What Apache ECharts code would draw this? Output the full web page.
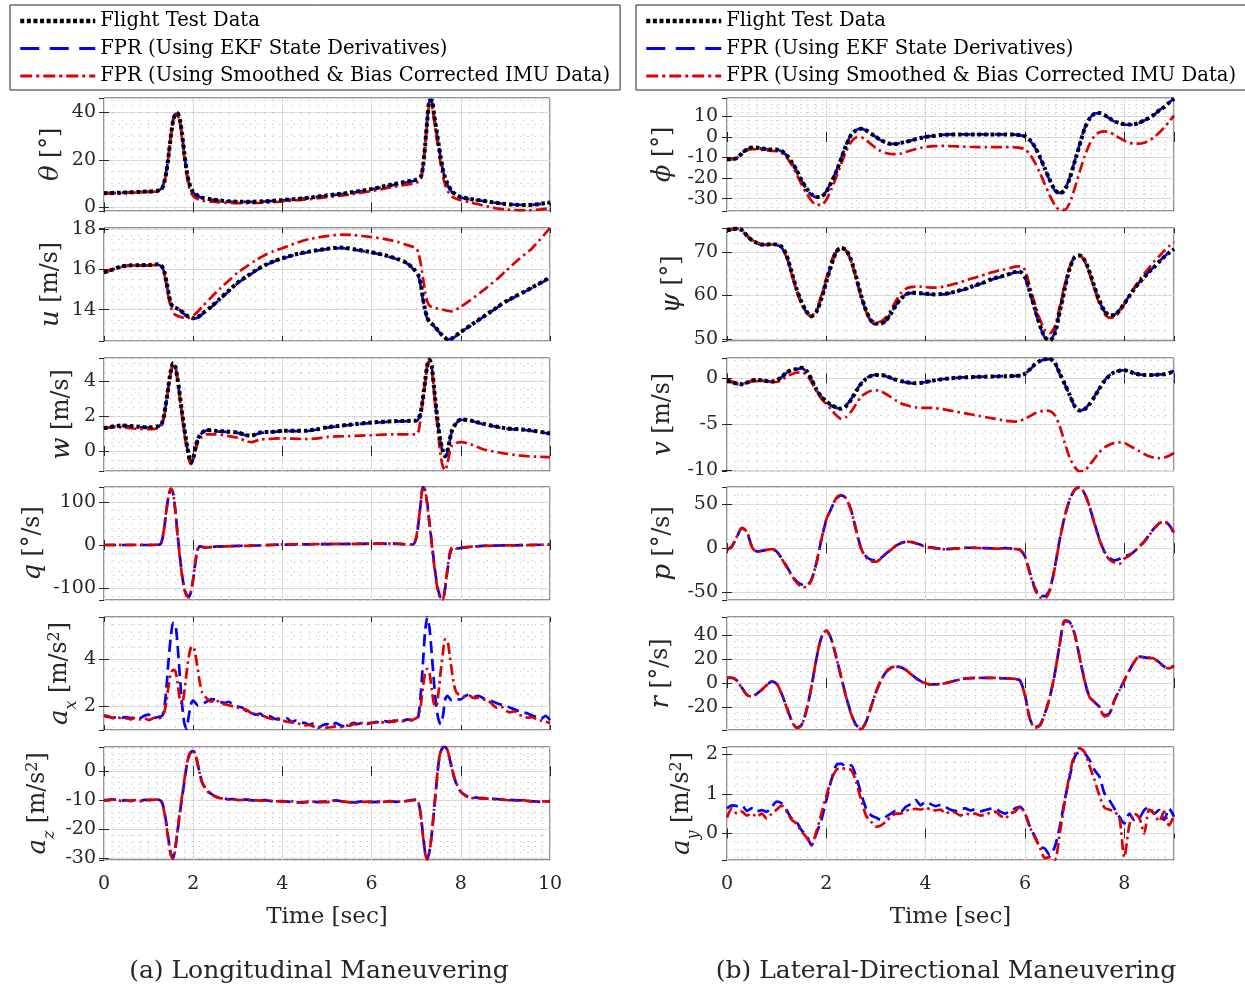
<!DOCTYPE html>
<html><head><meta charset="utf-8">
<script src="https://cdn.jsdelivr.net/npm/echarts@6/dist/echarts.min.js"></script>
<style>html,body{margin:0;padding:0;background:#fff}#c{width:1245px;height:987px}</style>
</head><body><div id="c"></div><script>
// ---------------- DATA ----------------
const seriesNames = ['Flight Test Data', 'FPR (Using EKF State Derivatives)', 'FPR (Using Smoothed & Bias Corrected IMU Data)'];
const captions = ['(a) Longitudinal Maneuvering', '(b) Lateral-Directional Maneuvering'];
const xTitle = 'Time [sec]';

// Left column: [time s, value] pairs
const thetaFT = [[0,6.0],[0.5,6.3],[1.0,6.7],[1.2,7.0],[1.3,8.0],[1.35,10.5],[1.4,15],[1.45,22],[1.5,30],[1.55,36.5],[1.6,39.2],[1.65,39.6],[1.7,37],[1.75,31],[1.8,23],[1.85,16],[1.9,11],[1.95,8],[2.0,6.5],[2.1,5.0],[2.2,4.1],[2.4,3.4],[2.6,2.9],[2.8,2.6],[3.0,2.4],[3.3,2.4],[3.6,2.6],[4.0,3.1],[4.5,3.9],[5.0,5.1],[5.5,6.2],[6.0,7.8],[6.5,9.8],[7.0,11.7],[7.1,12.8],[7.15,17],[7.2,26],[7.25,37],[7.3,45],[7.35,45],[7.4,39],[7.45,33],[7.5,27],[7.55,21],[7.6,16],[7.65,12.5],[7.7,10],[7.8,6.8],[7.9,5.3],[8.0,4.4],[8.2,3.6],[8.5,2.8],[9.0,1.4],[9.5,1.0],[9.8,1.5],[10,2.1]];
const thetaEKF = [[0,6.0],[0.5,6.3],[1.0,6.7],[1.2,7.0],[1.3,8.2],[1.35,11],[1.4,15.5],[1.45,22.5],[1.5,30.5],[1.55,36.8],[1.6,39.3],[1.65,39.4],[1.7,36.5],[1.75,30.5],[1.8,22.5],[1.85,15.5],[1.9,10.5],[1.95,7.6],[2.0,6.2],[2.1,4.8],[2.2,4.0],[2.4,3.3],[2.6,2.8],[2.8,2.5],[3.0,2.3],[3.3,2.3],[3.6,2.5],[4.0,3.0],[4.5,3.8],[5.0,4.9],[5.5,6.0],[6.0,7.6],[6.5,9.5],[7.0,11.4],[7.1,12.6],[7.15,17],[7.2,26.5],[7.25,37.5],[7.3,44.8],[7.35,44.5],[7.4,38.5],[7.45,32.5],[7.5,26.5],[7.55,20.5],[7.6,15.5],[7.65,12],[7.7,9.5],[7.8,6.5],[7.9,5.0],[8.0,4.2],[8.2,3.5],[8.5,2.7],[9.0,1.4],[9.5,1.0],[9.8,1.5],[10,2.0]];
const thetaIMU = [[0,5.8],[0.5,6.1],[1.0,6.5],[1.2,6.8],[1.3,7.8],[1.35,10.5],[1.4,15],[1.45,22],[1.5,30],[1.55,36.5],[1.6,38.8],[1.65,38.8],[1.7,35.5],[1.75,29],[1.8,21],[1.85,14],[1.9,9],[1.95,6.3],[2.0,4.8],[2.1,3.5],[2.2,2.9],[2.4,2.4],[2.6,2.1],[2.8,1.9],[3.0,1.8],[3.3,1.8],[3.6,2.0],[4.0,2.5],[4.5,3.3],[5.0,4.3],[5.5,5.4],[6.0,6.9],[6.5,8.7],[7.0,10.4],[7.1,11.8],[7.15,16],[7.2,25.5],[7.25,36.5],[7.3,43.5],[7.35,43],[7.4,37],[7.45,30.5],[7.5,24],[7.55,18],[7.6,13],[7.65,9.5],[7.7,7],[7.8,4.6],[7.9,3.6],[8.0,3.0],[8.2,2.2],[8.5,0.8],[8.8,-0.4],[9.0,-0.9],[9.5,-1.2],[9.8,-0.8],[10,-0.3]];

const uFT = [[0,15.85],[0.2,16.0],[0.4,16.15],[0.6,16.2],[0.8,16.2],[1.0,16.22],[1.2,16.25],[1.3,16.15],[1.35,15.9],[1.4,15.4],[1.45,14.8],[1.5,14.3],[1.55,14.15],[1.6,14.1],[1.7,14.0],[1.8,13.8],[1.9,13.65],[2.0,13.58],[2.1,13.62],[2.2,13.8],[2.4,14.15],[2.6,14.55],[2.8,14.95],[3.0,15.35],[3.2,15.65],[3.4,15.95],[3.6,16.2],[3.8,16.4],[4.0,16.55],[4.3,16.75],[4.6,16.88],[5.0,17.02],[5.3,17.08],[5.6,17.0],[6.0,16.85],[6.3,16.7],[6.6,16.5],[6.8,16.3],[6.95,16.0],[7.05,15.7],[7.1,15.3],[7.15,14.6],[7.2,14.0],[7.25,13.6],[7.3,13.4],[7.4,13.2],[7.5,12.95],[7.6,12.7],[7.7,12.55],[7.8,12.58],[8.0,12.9],[8.2,13.2],[8.5,13.65],[8.8,14.1],[9.0,14.4],[9.3,14.75],[9.6,15.1],[10,15.6]];
const uEKF = [[0,15.83],[0.2,16.0],[0.4,16.13],[0.6,16.2],[0.8,16.2],[1.0,16.2],[1.2,16.23],[1.3,16.12],[1.35,15.85],[1.4,15.3],[1.45,14.7],[1.5,14.25],[1.55,14.12],[1.6,14.08],[1.7,13.98],[1.8,13.78],[1.9,13.62],[2.0,13.56],[2.1,13.6],[2.2,13.78],[2.4,14.12],[2.6,14.52],[2.8,14.92],[3.0,15.32],[3.2,15.62],[3.4,15.92],[3.6,16.18],[3.8,16.38],[4.0,16.53],[4.3,16.73],[4.6,16.86],[5.0,17.0],[5.3,17.06],[5.6,16.98],[6.0,16.83],[6.3,16.68],[6.6,16.48],[6.8,16.28],[6.95,15.98],[7.05,15.65],[7.1,15.2],[7.15,14.5],[7.2,13.95],[7.25,13.55],[7.3,13.38],[7.4,13.18],[7.5,12.93],[7.6,12.68],[7.7,12.53],[7.8,12.56],[8.0,12.88],[8.2,13.18],[8.5,13.63],[8.8,14.08],[9.0,14.38],[9.3,14.73],[9.6,15.08],[10,15.58]];
const uIMU = [[0,15.85],[0.2,16.0],[0.4,16.12],[0.6,16.18],[0.8,16.2],[1.0,16.2],[1.2,16.22],[1.3,16.1],[1.35,15.8],[1.4,15.2],[1.45,14.6],[1.5,14.1],[1.55,13.85],[1.6,13.75],[1.7,13.65],[1.8,13.6],[1.9,13.6],[2.0,13.7],[2.1,13.9],[2.2,14.15],[2.4,14.6],[2.6,15.05],[2.8,15.45],[3.0,15.85],[3.2,16.15],[3.4,16.45],[3.6,16.7],[3.8,16.9],[4.0,17.05],[4.3,17.3],[4.6,17.5],[5.0,17.65],[5.3,17.72],[5.6,17.7],[6.0,17.6],[6.3,17.5],[6.6,17.35],[6.8,17.2],[7.0,17.05],[7.05,16.8],[7.1,16.3],[7.15,15.6],[7.2,14.9],[7.25,14.4],[7.3,14.2],[7.4,14.1],[7.5,14.05],[7.6,14.0],[7.7,13.95],[7.8,13.92],[8.0,14.15],[8.2,14.45],[8.5,14.95],[8.8,15.5],[9.0,15.9],[9.3,16.5],[9.6,17.05],[10,18.05]];

const wFT = [[0,1.3],[0.2,1.4],[0.4,1.45],[0.6,1.42],[0.8,1.38],[1.0,1.35],[1.2,1.4],[1.3,1.6],[1.35,2.1],[1.4,2.9],[1.45,3.8],[1.5,4.6],[1.55,5.0],[1.6,4.8],[1.65,4.1],[1.7,3.2],[1.75,2.2],[1.8,1.3],[1.85,0.5],[1.9,-0.2],[1.95,-0.65],[2.0,-0.4],[2.05,0.2],[2.1,0.65],[2.15,0.9],[2.2,1.05],[2.3,1.2],[2.5,1.15],[2.8,1.1],[3.0,1.05],[3.2,0.9],[3.3,0.87],[3.5,1.05],[3.8,1.1],[4.0,1.15],[4.5,1.15],[4.8,1.25],[5.0,1.35],[5.5,1.5],[6.0,1.62],[6.5,1.7],[7.0,1.74],[7.05,1.85],[7.1,2.2],[7.15,3.0],[7.2,4.0],[7.25,4.9],[7.3,5.2],[7.35,4.8],[7.4,3.6],[7.45,2.4],[7.5,1.3],[7.55,0.5],[7.6,0.0],[7.65,-0.3],[7.7,0.0],[7.75,0.6],[7.8,1.15],[7.9,1.6],[8.0,1.8],[8.2,1.75],[8.5,1.55],[9.0,1.3],[9.5,1.2],[10,1.0]];
const wEKF = [[0,1.28],[0.2,1.38],[0.4,1.43],[0.6,1.4],[0.8,1.36],[1.0,1.33],[1.2,1.38],[1.3,1.58],[1.35,2.05],[1.4,2.85],[1.45,3.75],[1.5,4.55],[1.55,4.95],[1.6,4.78],[1.65,4.05],[1.7,3.1],[1.75,2.1],[1.8,1.2],[1.85,0.4],[1.9,-0.3],[1.95,-0.7],[2.0,-0.45],[2.05,0.15],[2.1,0.6],[2.15,0.88],[2.2,1.03],[2.3,1.18],[2.5,1.13],[2.8,1.08],[3.0,1.03],[3.2,0.88],[3.3,0.85],[3.5,1.03],[3.8,1.08],[4.0,1.13],[4.5,1.13],[4.8,1.23],[5.0,1.33],[5.5,1.48],[6.0,1.6],[6.5,1.68],[7.0,1.72],[7.05,1.82],[7.1,2.15],[7.15,2.95],[7.2,3.95],[7.25,4.85],[7.3,5.15],[7.35,4.75],[7.4,3.5],[7.45,2.3],[7.5,1.2],[7.55,0.4],[7.6,-0.1],[7.65,-0.35],[7.7,-0.05],[7.75,0.55],[7.8,1.1],[7.9,1.58],[8.0,1.78],[8.2,1.73],[8.5,1.53],[9.0,1.28],[9.5,1.18],[10,0.98]];
const wIMU = [[0,1.3],[0.2,1.35],[0.4,1.35],[0.6,1.3],[0.8,1.25],[1.0,1.25],[1.2,1.3],[1.3,1.5],[1.35,2.0],[1.4,2.8],[1.45,3.7],[1.5,4.5],[1.55,4.95],[1.6,4.8],[1.65,4.0],[1.7,3.0],[1.75,2.0],[1.8,1.0],[1.85,0.2],[1.9,-0.45],[1.95,-0.75],[2.0,-0.55],[2.05,0.0],[2.1,0.45],[2.15,0.7],[2.2,0.85],[2.3,0.95],[2.5,0.95],[2.8,0.85],[3.0,0.75],[3.2,0.55],[3.3,0.5],[3.5,0.65],[3.8,0.7],[4.0,0.72],[4.5,0.68],[4.8,0.72],[5.0,0.8],[5.5,0.85],[6.0,0.9],[6.5,0.95],[7.0,0.95],[7.05,1.1],[7.1,1.9],[7.15,2.9],[7.2,3.9],[7.25,4.9],[7.3,5.15],[7.35,4.7],[7.4,3.4],[7.45,2.0],[7.5,0.8],[7.55,-0.3],[7.6,-0.9],[7.65,-1.1],[7.7,-0.7],[7.75,-0.1],[7.8,0.3],[7.9,0.45],[8.0,0.5],[8.2,0.4],[8.5,0.1],[9.0,-0.15],[9.5,-0.3],[10,-0.35]];

const qEKF = [[0,0],[0.5,0],[1.0,0],[1.2,1],[1.25,1],[1.3,10],[1.35,40],[1.4,80],[1.45,115],[1.5,130],[1.55,120],[1.6,80],[1.65,25],[1.7,-25],[1.75,-70],[1.8,-100],[1.85,-115],[1.9,-120],[1.95,-110],[2.0,-80],[2.05,-40],[2.1,-12],[2.15,-3],[2.2,-4],[2.3,-6],[2.5,-4],[3.0,-2],[3.5,-1],[4.0,1],[5.0,2],[6.0,3],[6.5,3],[6.9,1],[6.95,3],[7.0,15],[7.05,50],[7.1,95],[7.15,135],[7.2,126],[7.25,95],[7.3,50],[7.35,5],[7.4,-40],[7.45,-80],[7.5,-108],[7.55,-122],[7.6,-125],[7.65,-100],[7.7,-60],[7.75,-25],[7.8,-8],[7.85,-4],[7.9,-8],[8.0,-7],[8.5,-2],[9.0,-1],[10,1]];
const qIMU = [[0,0],[0.5,0.5],[1.0,0],[1.2,1],[1.25,2],[1.3,10],[1.35,40],[1.4,82],[1.45,116],[1.5,132],[1.55,121],[1.6,78],[1.65,22],[1.7,-28],[1.75,-72],[1.8,-102],[1.85,-118],[1.9,-122],[1.95,-108],[2.0,-78],[2.05,-38],[2.1,-10],[2.15,-3],[2.2,-5],[2.3,-6],[2.5,-4],[3.0,-2.5],[3.5,-1],[4.0,1.5],[5.0,2.5],[6.0,3],[6.5,3.5],[6.9,1],[6.95,4],[7.0,18],[7.05,52],[7.1,97],[7.15,136],[7.2,128],[7.25,92],[7.3,46],[7.35,0],[7.4,-45],[7.45,-85],[7.5,-112],[7.55,-126],[7.6,-127],[7.65,-98],[7.7,-55],[7.75,-20],[7.8,-6],[7.85,-4],[7.9,-8],[8.0,-6],[8.5,-2],[9.0,-1],[10,1]];

const axEKF = [[0,1.6],[0.1,1.55],[0.2,1.52],[0.3,1.56],[0.4,1.52],[0.5,1.55],[0.6,1.5],[0.7,1.55],[0.8,1.5],[0.9,1.6],[1.0,1.65],[1.1,1.5],[1.2,1.55],[1.3,1.6],[1.35,1.9],[1.4,2.8],[1.45,4.0],[1.5,5.0],[1.55,5.55],[1.6,5.5],[1.65,4.6],[1.7,3.3],[1.75,2.1],[1.8,1.3],[1.85,1.05],[1.9,1.6],[1.95,2.1],[2.0,2.25],[2.05,2.15],[2.1,2.05],[2.2,2.1],[2.3,2.2],[2.4,2.3],[2.5,2.3],[2.6,2.2],[2.7,2.15],[2.8,2.2],[2.9,2.05],[3.0,2.0],[3.1,1.95],[3.2,1.8],[3.3,1.75],[3.4,1.65],[3.5,1.7],[3.6,1.55],[3.7,1.6],[3.8,1.5],[3.9,1.45],[4.0,1.45],[4.1,1.5],[4.2,1.35],[4.3,1.4],[4.4,1.3],[4.5,1.3],[4.6,1.22],[4.7,1.28],[4.8,1.1],[4.9,1.2],[5.0,1.25],[5.1,1.15],[5.2,1.3],[5.3,1.2],[5.4,1.15],[5.5,1.22],[5.6,1.3],[5.7,1.25],[5.8,1.33],[5.9,1.28],[6.0,1.3],[6.1,1.35],[6.2,1.3],[6.3,1.38],[6.4,1.33],[6.5,1.4],[6.6,1.42],[6.7,1.38],[6.8,1.45],[6.9,1.42],[7.0,1.4],[7.05,1.6],[7.1,2.5],[7.15,3.8],[7.2,5.2],[7.25,5.8],[7.3,5.3],[7.35,4.2],[7.4,3.0],[7.45,2.0],[7.5,1.45],[7.55,1.25],[7.6,1.6],[7.65,2.3],[7.7,2.45],[7.8,2.25],[7.9,2.3],[8.0,2.3],[8.1,2.45],[8.2,2.5],[8.3,2.42],[8.4,2.45],[8.5,2.35],[8.6,2.3],[8.7,2.22],[8.8,2.15],[8.9,2.08],[9.0,2.05],[9.1,1.95],[9.2,1.88],[9.3,1.8],[9.4,1.75],[9.5,1.7],[9.6,1.62],[9.7,1.55],[9.8,1.48],[9.9,1.6],[10,1.42]];
const axIMU = [[0,1.62],[0.1,1.58],[0.2,1.5],[0.3,1.55],[0.4,1.48],[0.5,1.5],[0.6,1.45],[0.7,1.52],[0.8,1.45],[0.9,1.5],[1.0,1.42],[1.1,1.5],[1.2,1.55],[1.25,1.5],[1.3,1.6],[1.35,1.75],[1.4,2.2],[1.45,2.9],[1.5,3.4],[1.55,3.55],[1.6,3.5],[1.65,3.0],[1.7,2.3],[1.75,2.1],[1.8,2.6],[1.85,3.4],[1.9,4.1],[1.95,4.5],[2.0,4.55],[2.05,4.2],[2.1,3.6],[2.15,3.0],[2.2,2.6],[2.3,2.35],[2.4,2.2],[2.5,2.3],[2.6,2.15],[2.7,2.1],[2.8,2.05],[2.9,2.0],[3.0,1.95],[3.1,1.9],[3.2,1.85],[3.3,1.72],[3.4,1.7],[3.5,1.6],[3.6,1.58],[3.7,1.5],[3.8,1.45],[3.9,1.5],[4.0,1.42],[4.1,1.35],[4.2,1.32],[4.3,1.3],[4.4,1.25],[4.5,1.2],[4.6,1.22],[4.7,1.15],[4.8,1.12],[4.9,1.15],[5.0,1.1],[5.1,1.12],[5.2,1.15],[5.3,1.12],[5.4,1.2],[5.5,1.18],[5.6,1.25],[5.7,1.22],[5.8,1.3],[5.9,1.25],[6.0,1.3],[6.1,1.32],[6.2,1.35],[6.3,1.3],[6.4,1.38],[6.5,1.35],[6.6,1.42],[6.7,1.4],[6.8,1.45],[6.9,1.42],[7.0,1.5],[7.05,1.6],[7.1,2.0],[7.15,2.8],[7.2,3.4],[7.25,3.6],[7.3,3.4],[7.35,2.7],[7.4,2.1],[7.45,2.0],[7.5,2.6],[7.55,3.5],[7.6,4.3],[7.65,4.85],[7.7,4.8],[7.75,4.2],[7.8,3.5],[7.85,2.9],[7.9,2.6],[8.0,2.45],[8.1,2.4],[8.2,2.45],[8.3,2.35],[8.4,2.38],[8.5,2.3],[8.6,2.28],[8.7,2.1],[8.8,1.95],[8.9,2.0],[9.0,1.85],[9.1,1.75],[9.2,1.8],[9.3,1.65],[9.4,1.6],[9.5,1.52],[9.6,1.55],[9.7,1.45],[9.8,1.4],[9.9,1.35],[10,1.3]];

const azEKF = [[0,-10.1],[0.1,-9.9],[0.2,-9.7],[0.3,-10.0],[0.4,-10.2],[0.5,-10.0],[0.6,-10.3],[0.7,-10.1],[0.8,-10.3],[0.9,-9.9],[1.0,-10.0],[1.1,-9.8],[1.2,-9.8],[1.25,-10.0],[1.3,-10.7],[1.35,-13.6],[1.4,-18.2],[1.45,-23.9],[1.5,-28.5],[1.55,-29.7],[1.6,-26.2],[1.65,-20.5],[1.7,-14.7],[1.75,-9.0],[1.8,-3.8],[1.85,1.4],[1.9,4.8],[1.95,6.6],[2.0,6.9],[2.05,5.7],[2.1,2.5],[2.15,-0.9],[2.2,-3.8],[2.3,-6.4],[2.4,-7.8],[2.5,-8.7],[2.6,-9.2],[2.7,-9.4],[2.8,-9.7],[2.9,-9.6],[3.0,-9.9],[3.2,-9.8],[3.4,-10.2],[3.6,-10.0],[3.8,-10.4],[4.0,-10.3],[4.2,-10.6],[4.4,-10.8],[4.6,-10.5],[4.8,-10.7],[5.0,-10.4],[5.2,-10.1],[5.4,-10.6],[5.6,-10.8],[5.8,-10.4],[6.0,-10.7],[6.2,-10.5],[6.4,-10.4],[6.6,-10.6],[6.8,-10.2],[7.0,-9.8],[7.05,-10.7],[7.1,-14.7],[7.15,-21.6],[7.2,-27.9],[7.25,-30.2],[7.3,-27.4],[7.35,-21.6],[7.4,-13.6],[7.45,-5.5],[7.5,2.5],[7.55,6.6],[7.6,8.2],[7.65,8.4],[7.7,7.1],[7.75,4.3],[7.8,0.8],[7.85,-2.1],[7.9,-4.4],[8.0,-7.2],[8.1,-8.4],[8.2,-9.0],[8.4,-9.2],[8.6,-9.4],[8.8,-9.6],[9.0,-9.8],[9.2,-10.0],[9.4,-10.1],[9.6,-10.4],[9.8,-10.6],[10,-10.3]];
const azIMU = [[0,-10.0],[0.1,-10.1],[0.2,-9.8],[0.3,-9.9],[0.4,-10.3],[0.5,-10.1],[0.6,-10.2],[0.7,-10.0],[0.8,-10.4],[0.9,-10.0],[1.0,-9.9],[1.1,-9.9],[1.2,-9.7],[1.25,-10.1],[1.3,-10.9],[1.35,-14.0],[1.4,-18.8],[1.45,-24.5],[1.5,-29.0],[1.55,-30.2],[1.6,-26.5],[1.65,-20.3],[1.7,-14.2],[1.75,-8.5],[1.8,-3.2],[1.85,1.8],[1.9,5.2],[1.95,6.9],[2.0,7.1],[2.05,5.8],[2.1,2.4],[2.15,-1.1],[2.2,-4.0],[2.3,-6.6],[2.4,-8.0],[2.5,-8.8],[2.6,-9.3],[2.7,-9.5],[2.8,-9.8],[2.9,-9.7],[3.0,-10.0],[3.2,-9.9],[3.4,-10.1],[3.6,-10.2],[3.8,-10.3],[4.0,-10.5],[4.2,-10.4],[4.4,-10.9],[4.6,-10.6],[4.8,-10.5],[5.0,-10.7],[5.2,-10.2],[5.4,-10.5],[5.6,-10.9],[5.8,-10.6],[6.0,-10.5],[6.2,-10.7],[6.4,-10.3],[6.6,-10.5],[6.8,-10.3],[7.0,-9.9],[7.05,-10.9],[7.1,-15.0],[7.15,-22.0],[7.2,-28.3],[7.25,-30.5],[7.3,-27.6],[7.35,-21.4],[7.4,-13.2],[7.45,-5.0],[7.5,2.9],[7.55,7.0],[7.6,8.5],[7.65,8.6],[7.7,7.3],[7.75,4.5],[7.8,1.0],[7.85,-1.9],[7.9,-4.2],[8.0,-7.0],[8.1,-8.3],[8.2,-9.1],[8.4,-9.4],[8.6,-9.5],[8.8,-9.8],[9.0,-9.9],[9.2,-10.2],[9.4,-10.0],[9.6,-10.5],[9.8,-10.4],[10,-10.5]];

// Right column: values sampled every 0.1 s from 0 to 9 s
const tR = Array.from({length: 91}, (_, i) => +(i * 0.1).toFixed(1));
const phiFT = [-10.8,-10.8,-10.2,-8.0,-6.0,-5.2,-5.3,-5.6,-6.0,-6.1,
 -6.1,-6.9,-8.9,-12.1,-16.1,-21.0,-25.0,-27.9,-29.2,-29.0,
 -26.6,-22.1,-16.9,-10.5,-4.0,1.0,3.2,4.0,3.2,1.6,
 0.0,-1.6,-2.7,-3.4,-3.4,-2.9,-2.4,-1.9,-1.1,-0.5,
 0.0,0.3,0.6,0.9,1.1,1.2,1.2,1.2,1.2,1.2,
 1.2,1.2,1.2,1.2,1.2,1.2,1.2,1.2,1.1,0.9,
 0.3,-1.6,-4.8,-9.7,-15.3,-21.0,-25.8,-27.4,-25.8,-20.2,
 -12.1,-4.0,4.0,8.9,11.3,11.6,10.6,9.1,7.6,6.8,
 6.1,6.0,6.1,6.9,8.1,9.2,10.8,12.9,14.5,16.6,
 18.5];
const phiEKF = [-10.9,-10.8,-10.1,-7.9,-6.1,-5.3,-5.4,-5.7,-6.1,-6.2,
 -6.2,-7.0,-9.0,-12.3,-16.3,-21.2,-25.3,-28.1,-29.3,-28.9,
 -26.4,-21.8,-16.5,-10.2,-3.8,1.1,3.3,4.0,3.1,1.5,
 -0.1,-1.7,-2.8,-3.4,-3.3,-2.9,-2.3,-1.8,-1.0,-0.4,
 0.1,0.4,0.7,0.9,1.1,1.2,1.2,1.3,1.2,1.2,
 1.3,1.2,1.2,1.3,1.2,1.2,1.2,1.2,1.1,0.8,
 0.2,-1.8,-5.1,-10.0,-15.6,-21.3,-26.0,-27.3,-25.5,-19.8,
 -11.8,-3.7,4.2,9.0,11.4,11.6,10.5,9.0,7.5,6.7,
 6.0,5.9,6.0,6.8,8.0,9.2,10.8,12.9,14.6,16.7,
 18.6];
const phiIMU = [-10.8,-10.7,-10.4,-8.5,-6.6,-5.9,-6.0,-6.3,-6.6,-6.8,
 -6.9,-7.8,-10.0,-13.5,-18.0,-23.0,-27.5,-31.0,-33.0,-33.0,
 -30.5,-25.5,-19.5,-13.0,-7.0,-2.5,-0.3,-0.2,-1.5,-3.5,
 -5.5,-6.9,-7.8,-8.3,-8.4,-8.1,-7.4,-6.6,-5.9,-5.3,
 -4.9,-4.6,-4.5,-4.4,-4.4,-4.5,-4.6,-4.7,-4.8,-4.9,
 -4.9,-5.0,-5.0,-5.0,-5.0,-5.0,-5.0,-5.0,-5.1,-5.3,
 -6.0,-8.5,-12.5,-17.5,-23.0,-28.5,-33.0,-35.5,-35.5,-32.0,
 -25.0,-17.0,-9.5,-3.5,0.5,2.3,2.7,2.2,1.0,-0.5,
 -1.8,-2.8,-3.3,-3.3,-2.8,-1.8,-0.2,2.0,4.6,7.4,
 10.3];

const psiFT = [75.0,75.2,75.4,75.0,73.8,72.7,72.1,71.7,71.7,71.8,
 71.7,71.2,69.2,65.4,61.5,58.5,56.3,55.2,56.2,59.2,
 63.1,66.9,70.0,70.9,70.4,68.1,64.2,60.0,56.5,54.2,
 53.5,53.5,54.2,55.8,57.7,59.2,60.2,60.6,60.6,60.5,
 60.4,60.3,60.2,60.3,60.4,60.6,60.9,61.2,61.5,61.9,
 62.3,62.7,63.1,63.6,64.0,64.3,64.6,65.0,65.4,65.4,
 64.2,60.8,56.9,53.1,50.4,49.6,51.2,56.2,61.5,66.2,
 68.8,69.2,68.1,65.4,61.9,58.8,56.5,55.4,55.5,56.5,
 58.1,59.8,61.5,62.9,64.2,65.4,66.5,67.7,68.8,69.8,
 70.6];
const psiEKF = [74.9,75.2,75.3,74.9,73.7,72.6,72.0,71.6,71.6,71.7,
 71.6,71.0,69.0,65.2,61.3,58.3,56.1,55.1,56.3,59.4,
 63.3,67.0,70.0,70.8,70.2,67.9,64.0,59.8,56.3,54.0,
 53.3,53.4,54.2,55.9,57.8,59.3,60.2,60.5,60.5,60.4,
 60.3,60.2,60.1,60.2,60.3,60.5,60.8,61.1,61.4,61.8,
 62.2,62.6,63.0,63.5,63.9,64.2,64.5,64.9,65.3,65.3,
 64.0,60.5,56.6,52.9,50.3,49.7,51.5,56.6,61.8,66.4,
 68.9,69.1,67.9,65.1,61.6,58.6,56.3,55.3,55.5,56.6,
 58.2,59.9,61.6,63.0,64.3,65.5,66.6,67.8,68.9,69.9,
 70.7];
const psiIMU = [75.0,75.2,75.4,75.0,73.9,72.8,72.2,71.8,71.7,71.7,
 71.6,71.0,68.7,65.0,61.0,58.0,56.0,55.3,56.8,60.0,
 64.0,67.8,70.4,71.0,70.3,67.8,63.8,59.6,56.3,54.3,
 53.8,54.0,55.0,56.7,58.7,60.5,61.5,61.9,62.0,62.0,
 61.9,61.8,61.8,61.9,62.1,62.4,62.7,63.0,63.4,63.8,
 64.1,64.5,64.8,65.2,65.5,65.8,66.0,66.3,66.6,66.7,
 65.8,62.0,58.0,54.5,52.0,51.3,52.8,57.5,62.5,66.5,
 68.8,69.2,68.0,65.0,61.3,58.0,55.8,54.9,55.0,56.2,
 58.0,59.9,61.8,63.5,65.0,66.4,67.8,69.0,70.2,71.3,
 72.3];

const vFT = [-0.3,-0.4,-0.58,-0.65,-0.47,-0.22,-0.18,-0.22,-0.29,-0.36,
 -0.22,0.14,0.62,0.9,1.0,1.15,0.8,-0.1,-1.2,-2.0,
 -2.5,-2.9,-3.15,-3.3,-3.0,-2.3,-1.4,-0.6,-0.05,0.25,
 0.35,0.36,0.25,0.05,-0.15,-0.3,-0.42,-0.5,-0.54,-0.5,
 -0.4,-0.3,-0.2,-0.12,-0.05,0.0,0.05,0.08,0.1,0.12,
 0.15,0.17,0.18,0.2,0.2,0.22,0.23,0.24,0.25,0.3,
 0.5,0.98,1.52,1.88,2.06,2.1,1.7,0.5,-0.6,-1.8,
 -3.0,-3.5,-3.35,-2.8,-2.0,-1.1,-0.3,0.3,0.65,0.82,
 0.87,0.75,0.55,0.42,0.36,0.35,0.36,0.4,0.43,0.55,
 0.8];
const vEKF = [-0.28,-0.42,-0.6,-0.66,-0.48,-0.24,-0.2,-0.24,-0.3,-0.37,
 -0.24,0.12,0.6,0.88,0.98,1.1,0.75,-0.15,-1.25,-2.05,
 -2.55,-2.95,-3.2,-3.3,-2.95,-2.25,-1.35,-0.55,0.0,0.28,
 0.37,0.35,0.22,0.02,-0.18,-0.33,-0.45,-0.52,-0.55,-0.5,
 -0.4,-0.3,-0.2,-0.12,-0.05,0.0,0.05,0.08,0.1,0.12,
 0.15,0.17,0.18,0.2,0.2,0.22,0.23,0.24,0.25,0.3,
 0.5,0.95,1.5,1.86,2.05,2.08,1.65,0.45,-0.65,-1.85,
 -3.05,-3.52,-3.32,-2.75,-1.95,-1.05,-0.25,0.32,0.66,0.83,
 0.87,0.74,0.54,0.42,0.36,0.35,0.37,0.41,0.45,0.58,
 0.82];
const vIMU = [-0.2,-0.35,-0.5,-0.6,-0.5,-0.35,-0.3,-0.3,-0.35,-0.4,
 -0.4,-0.2,0.2,0.45,0.6,0.65,0.4,-0.4,-1.4,-2.2,
 -2.8,-3.4,-4.0,-4.4,-4.2,-3.6,-2.8,-2.0,-1.6,-1.35,
 -1.3,-1.4,-1.7,-2.05,-2.4,-2.7,-2.9,-3.05,-3.15,-3.2,
 -3.2,-3.2,-3.25,-3.3,-3.4,-3.5,-3.6,-3.7,-3.8,-3.9,
 -4.0,-4.1,-4.2,-4.3,-4.4,-4.5,-4.6,-4.65,-4.7,-4.6,
 -4.4,-4.1,-3.8,-3.6,-3.5,-3.55,-4.0,-5.2,-7.0,-8.6,
 -9.6,-10.1,-10.0,-9.4,-8.7,-8.0,-7.5,-7.2,-7.0,-6.95,
 -7.0,-7.3,-7.6,-7.9,-8.2,-8.45,-8.6,-8.65,-8.6,-8.4,
 -8.1];

const pEKF = [-1.9,1.9,13.0,22.6,18.8,1.9,-3.8,-3.0,-1.9,-0.8,
 -3.8,-11.3,-20.7,-30.0,-37.6,-41.4,-42.5,-35.7,-16.9,9.4,
 32.0,45.0,56.4,60.0,56.4,43.2,20.7,0.0,-9.4,-13.2,
 -13.9,-11.3,-6.4,-1.9,2.6,5.6,7.1,7.1,5.6,3.8,
 1.9,0.8,0.0,-0.6,-1.1,-0.8,-0.4,0.0,0.4,0.4,
 0.4,0.2,0.0,-0.2,-0.4,-0.2,0.0,-0.3,-0.8,-1.9,
 -9.4,-28.0,-45.0,-53.8,-54.5,-47.0,-22.0,10.0,36.0,55.0,
 66.0,69.0,62.0,47.0,28.0,10.0,-4.0,-11.0,-13.9,-12.4,
 -9.4,-7.5,-3.8,1.9,7.5,15.0,22.6,28.2,30.0,26.3,
 16.9];
const pIMU = [-1.5,2.2,13.5,23.0,18.5,1.5,-4.2,-3.2,-2.0,-1.0,
 -4.2,-12.0,-21.5,-31.0,-39.0,-44.0,-44.5,-36.5,-17.0,9.8,
 32.5,45.5,57.0,60.5,56.0,42.5,19.8,-0.8,-10.5,-15.0,
 -15.5,-12.0,-6.8,-2.0,2.8,5.8,7.3,7.0,5.3,3.5,
 1.6,0.5,-0.3,-0.9,-1.3,-1.0,-0.6,-0.2,0.2,0.3,
 0.2,0.0,-0.2,-0.4,-0.6,-0.4,-0.2,-0.5,-1.0,-2.2,
 -10.0,-29.5,-47.0,-56.0,-57.0,-48.0,-22.5,9.5,36.0,55.5,
 66.5,69.5,62.5,47.0,27.5,9.5,-5.0,-13.0,-16.5,-18.0,
 -12.0,-8.5,-4.0,1.5,7.0,14.5,22.0,28.0,30.5,27.0,
 17.5];

const rEKF = [4.4,4.4,2.2,-3.9,-9.7,-11.1,-8.9,-5.5,-1.9,1.4,
 -0.6,-8.9,-19.9,-31.0,-37.1,-35.2,-22.7,-3.3,20.2,38.2,
 43.8,36.8,21.6,5.0,-11.6,-25.5,-35.2,-38.0,-32.4,-19.9,
 -7.5,2.2,9.1,12.7,13.9,13.3,11.1,7.8,4.4,1.7,
 0.0,-1.1,-1.1,-0.6,0.0,1.0,2.2,3.2,3.9,4.2,
 4.4,4.4,4.4,4.4,4.4,4.2,3.9,3.8,3.6,2.2,
 -10.0,-30.0,-37.0,-35.2,-25.5,-11.6,7.8,32.7,52.0,51.0,
 41.0,21.6,2.2,-11.6,-15.8,-19.9,-26.9,-25.5,-14.4,-6.1,
 2.2,10.5,17.5,22.2,21.6,21.1,20.2,17.5,13.9,12.7,
 14.7];
const rIMU = [4.6,4.5,2.0,-4.2,-10.0,-11.3,-9.0,-5.4,-1.7,1.6,
 -0.4,-9.2,-20.3,-31.5,-37.6,-35.6,-22.9,-3.2,20.5,38.6,
 44.2,37.0,21.5,4.8,-12.0,-26.0,-35.8,-38.6,-32.8,-20.0,
 -7.5,2.3,9.3,12.9,14.0,13.3,11.0,7.6,4.2,1.5,
 -0.2,-1.3,-1.2,-0.7,-0.1,0.9,2.1,3.1,3.8,4.1,
 4.3,4.3,4.3,4.3,4.3,4.1,3.8,3.7,3.5,2.0,
 -10.5,-30.5,-37.5,-35.5,-25.6,-11.5,8.0,33.0,52.5,51.3,
 41.0,21.4,2.0,-11.8,-16.0,-20.5,-27.8,-26.0,-14.6,-6.0,
 2.4,10.8,17.8,22.5,21.8,21.3,20.5,17.3,13.5,12.4,
 14.5];

const ayEKF = [0.63,0.71,0.69,0.71,0.57,0.63,0.55,0.59,0.55,0.67,
 0.8,0.76,0.59,0.38,0.29,0.08,-0.04,-0.3,0.0,0.34,
 0.84,1.34,1.72,1.76,1.68,1.72,1.43,1.01,0.63,0.46,
 0.4,0.34,0.42,0.5,0.57,0.55,0.67,0.74,0.84,0.71,
 0.8,0.74,0.69,0.72,0.67,0.6,0.57,0.62,0.63,0.58,
 0.61,0.56,0.59,0.62,0.63,0.55,0.5,0.58,0.63,0.67,
 0.5,0.17,-0.08,-0.34,-0.38,-0.55,-0.34,0.17,0.84,1.43,
 1.93,2.06,2.02,1.85,1.6,1.43,1.01,0.84,0.63,0.42,
 0.25,0.5,0.34,0.38,0.59,0.67,0.5,0.59,0.34,0.63,
 0.42];
const ayIMU = [0.4,0.63,0.5,0.55,0.45,0.5,0.42,0.5,0.38,0.5,
 0.6,0.7,0.55,0.35,0.25,0.05,-0.1,-0.28,0.05,0.5,
 0.95,1.35,1.6,1.65,1.62,1.6,1.3,0.85,0.45,0.3,
 0.17,0.2,0.3,0.42,0.5,0.5,0.57,0.6,0.62,0.6,
 0.65,0.6,0.58,0.6,0.5,0.55,0.52,0.45,0.5,0.48,
 0.5,0.45,0.48,0.52,0.55,0.45,0.38,0.5,0.55,0.68,
 0.5,0.15,-0.1,-0.35,-0.62,-0.6,-0.66,0.0,0.8,1.5,
 2.0,2.15,2.05,1.7,1.35,0.95,0.65,0.6,0.55,0.4,
 -0.6,0.2,0.5,0.4,0.0,0.6,0.5,0.3,0.55,0.2,
 0.45];

// ---------------- LAYOUT / STYLE ----------------
const FONT = "'DejaVu Serif', serif";
const INK = '#262626';
const zipR = v => tR.map((t, i) => [t, v[i]]);

const colX = [{left: 104, width: 446, xMax: 10, tickGap: 8}, {left: 727, width: 447, xMax: 9, tickGap: 9}];
const rowTop = [98, 228, 358, 487, 617, 747];
const rowH = 113;

const panels = [
  {c:0, r:0, min:-1.5, max:46, step:20, minor:5, label:'{v|θ}{n| [°]}', gap:53, data:[thetaFT, thetaEKF, thetaIMU]},
  {c:0, r:1, min:12.45, max:18.05, step:2, minor:0.5, label:'{v|u}{n| [m/s]}', gap:53, data:[uFT, uEKF, uIMU]},
  {c:0, r:2, min:-1.14, max:5.3, step:2, minor:0.5, label:'{v|w}{n| [m/s]}', gap:42, data:[wFT, wEKF, wIMU]},
  {c:0, r:3, min:-128, max:135, step:100, minor:20, label:'{v|q}{n| [°/s]}', gap:71, data:[null, qEKF, qIMU]},
  {c:0, r:4, min:1.0, max:5.8, step:2, minor:0.5, label:'{v|a}{s|x}{n| [m/s}{p|2}{n|]}', gap:44, data:[null, axEKF, axIMU]},
  {c:0, r:5, min:-30.6, max:8.3, step:10, minor:2, label:'{v|a}{s|z}{n| [m/s}{p|2}{n|]}', gap:66, data:[null, azEKF, azIMU]},
  {c:1, r:0, min:-36, max:18.9, step:10, minor:2, label:'{v|ϕ}{n| [°]}', gap:64, data:[zipR(phiFT), zipR(phiEKF), zipR(phiIMU)]},
  {c:1, r:1, min:49.5, max:75.5, step:10, minor:2, label:'{v|ψ}{n| [°]}', gap:55, data:[zipR(psiFT), zipR(psiEKF), zipR(psiIMU)]},
  {c:1, r:2, min:-10.05, max:2.2, step:5, minor:1, label:'{v|v}{n| [m/s]}', gap:64, data:[zipR(vFT), zipR(vEKF), zipR(vIMU)]},
  {c:1, r:3, min:-59, max:69.5, step:50, minor:10, label:'{v|p}{n| [°/s]}', gap:64, data:[null, zipR(pEKF), zipR(pIMU)]},
  {c:1, r:4, min:-39.3, max:55.4, step:20, minor:5, label:'{v|r}{n| [°/s]}', gap:66, data:[null, zipR(rEKF), zipR(rIMU)]},
  {c:1, r:5, min:-0.67, max:2.18, step:1, minor:0.2, label:'{v|a}{s|y}{n| [m/s}{p|2}{n|]}', gap:43, data:[null, zipR(ayEKF), zipR(ayIMU)]}
];

const lineStyles = [
  {color:'#000000', width:4, type:[3.5,3], cap:'butt'},
  {color:'#0000ff', width:2.7, type:[12,6], cap:'butt'},
  {color:'#dd0000', width:2.7, type:[11,4,2.5,4], cap:'butt'}
];
const legendLineStyles = [
  {color:'#000000', width:4.5, type:[4,2.6], cap:'butt'},
  {color:'#0000ff', width:2.8, type:[19,10.5], cap:'butt'},
  {color:'#dd0000', width:2.8, type:[12,4,3,4], cap:'butt'}
];
const zOrder = [4, 2, 3];
const MAJOR = {show: true, lineStyle: {color: '#dedede', width: 1}};
const MINOR = {show: true, lineStyle: {color: '#c6c6c6', width: 1.1, type: [1.3, 6]}};
const HIDE = {show: false};

const grids = [], xAxes = [], yAxes = [], series = [];
panels.forEach((p, i) => {
  const col = colX[p.c];
  const bottom = p.r === 5;
  grids.push({left: col.left, top: rowTop[p.r], width: col.width, height: rowH, show: true,
    borderColor: INK, borderWidth: 1, backgroundColor: 'transparent'});
  const xBase = {gridIndex: i, type: 'value', min: 0, max: col.xMax};
  // main x axis (labels, major grid)
  xAxes.push(Object.assign({}, xBase, {interval: 2, position: 'bottom',
    axisLine: HIDE,
    axisTick: {show: true, inside: true, length: 5, lineStyle: {color: INK}},
    axisLabel: {show: bottom, fontFamily: FONT, fontSize: 19, color: INK, margin: 15, showMaxLabel: col.xMax === 10},
    splitLine: MAJOR,
    name: bottom ? xTitle : '', nameLocation: 'middle', nameGap: 57,
    nameTextStyle: {fontFamily: FONT, fontSize: 23, color: INK, verticalAlign: 'middle'}
  }));
  // minor x grid (0.2 s)
  xAxes.push(Object.assign({}, xBase, {interval: 0.2, position: 'bottom', axisLine: HIDE, axisTick: HIDE, axisLabel: HIDE, splitLine: MINOR}));
  // top ticks
  xAxes.push(Object.assign({}, xBase, {interval: 2, position: 'top', axisLine: HIDE, axisLabel: HIDE, splitLine: HIDE,
    axisTick: {show: true, inside: true, length: 5, lineStyle: {color: INK}}}));

  const yBase = {gridIndex: i, type: 'value', min: p.min, max: p.max};
  yAxes.push(Object.assign({}, yBase, {minInterval: p.step, maxInterval: p.step, position: 'left',
    axisLine: HIDE,
    axisTick: {show: true, inside: true, length: 5, lineStyle: {color: INK}},
    axisLabel: {fontFamily: FONT, fontSize: 19, color: INK, margin: col.tickGap, showMinLabel: false, showMaxLabel: false},
    splitLine: MAJOR,
    name: p.label, nameLocation: 'middle', nameRotate: 90, nameGap: p.gap,
    nameTextStyle: {color: INK, verticalAlign: 'middle', align: 'center',
      rich: {
        v: {fontFamily: FONT, fontStyle: 'italic', fontSize: 26, color: INK},
        n: {fontFamily: FONT, fontSize: 23.5, color: INK},
        s: {fontFamily: FONT, fontStyle: 'italic', fontSize: 16, color: INK, verticalAlign: 'bottom', padding: [0, 0, -7, 0]},
        p: {fontFamily: FONT, fontSize: 16, color: INK, verticalAlign: 'top', padding: [0, 0, 0, 0]}
      }}
  }));
  yAxes.push(Object.assign({}, yBase, {minInterval: p.minor, maxInterval: p.minor, position: 'left',
    axisLine: HIDE, axisTick: HIDE, axisLabel: HIDE, splitLine: MINOR}));
  yAxes.push(Object.assign({}, yBase, {minInterval: p.step, maxInterval: p.step, position: 'right',
    axisLine: HIDE, axisLabel: HIDE, splitLine: HIDE,
    axisTick: {show: true, inside: true, length: 5, lineStyle: {color: INK}}}));

  p.data.forEach((d, k) => {
    if (!d) return;
    series.push({name: seriesNames[k], type: 'line', xAxisIndex: 3 * i, yAxisIndex: 3 * i,
      data: d, symbol: 'none', showSymbol: false, smooth: 0.25, clip: true, z: zOrder[k],
      lineStyle: lineStyles[k], itemStyle: {color: lineStyles[k].color},
      emphasis: {disabled: true}, silent: true});
  });
});

const legendData = seriesNames.map((n, k) => ({name: n, lineStyle: legendLineStyles[k], itemStyle: {opacity: 0}}));
const legendBase = {orient: 'vertical', top: 5, padding: [5, 10, 3, 8], itemWidth: 75, itemHeight: 22, itemGap: 5.5,
  borderColor: INK, borderWidth: 1, backgroundColor: '#fff', selectedMode: false,
  itemStyle: {opacity: 0},
  textStyle: {fontFamily: FONT, fontSize: 19.6, color: '#000', lineHeight: 22},
  data: legendData};

const option = {
  animation: false,
  backgroundColor: '#ffffff',
  grid: grids, xAxis: xAxes, yAxis: yAxes, series: series,
  legend: [Object.assign({left: 10}, legendBase), Object.assign({left: 636}, legendBase)],
  graphic: [
    {type: 'text', x: 319, y: 971, style: {text: captions[0], font: "25px 'DejaVu Serif', serif", fill: INK, textAlign: 'center', textVerticalAlign: 'middle'}},
    {type: 'text', x: 946, y: 971, style: {text: captions[1], font: "25px 'DejaVu Serif', serif", fill: INK, textAlign: 'center', textVerticalAlign: 'middle'}}
  ]
};
const chart = echarts.init(document.getElementById('c'), null, {renderer: 'canvas'});
chart.setOption(option);
</script></body></html>
